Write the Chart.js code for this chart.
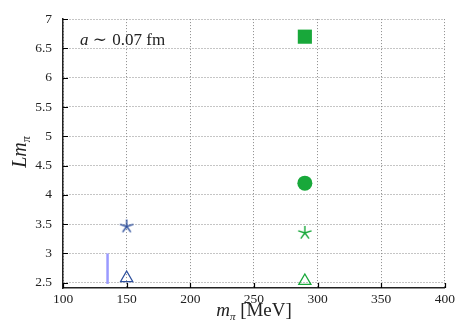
<!DOCTYPE html>
<html>
<head>
<meta charset="utf-8">
<script src="https://cdn.jsdelivr.net/npm/chart.js@4/dist/chart.umd.min.js"></script>
<style>
  html, body { margin: 0; padding: 0; background: #fff; }
  #wrap { width: 458px; height: 322px; position: relative; }
</style>
</head>
<body>
<div id="wrap"><canvas id="c" width="458" height="322"></canvas></div>
<script>
// ---- data ----
const xTicks = [100, 150, 200, 250, 300, 350, 400];
const yTicks = [2.5, 3, 3.5, 4, 4.5, 5, 5.5, 6, 6.5, 7];
const blueMass = [150];
const blueStarL = [3.46];
const blueTriangleL = [2.58];
const bandMass = [135, 135];
const bandL = [2.48, 3.0];
const greenMass = [290];
const greenSquareL = [6.7];
const greenCircleL = [4.2];
const greenStarL = [3.35];
const greenTriangleL = [2.53];
const annotation = ['a', ' \u223C ', '0.07 fm'];

// ---- styles ----
const BLUE = '#2d4f9c';
const GREEN = '#18a83a';
const LIGHTBLUE = '#9a9aff';
const SERIF = '"Liberation Serif", "DejaVu Serif", serif';

function starCanvas(color, len, lw) {
  const c = document.createElement('canvas');
  c.width = 20; c.height = 20;
  const g = c.getContext('2d');
  g.strokeStyle = color; g.lineWidth = lw; g.lineCap = 'butt';
  g.beginPath();
  for (let i = 0; i < 5; i++) {
    const a = -Math.PI / 2 + i * 2 * Math.PI / 5;
    g.moveTo(10, 10);
    g.lineTo(10 + len * Math.cos(a), 10 + len * Math.sin(a));
  }
  g.stroke();
  return c;
}

function pts(xs, ys) { return xs.map((x, i) => ({ x: x, y: ys[i] })); }

function drawRich(ctx, segs, x, y, align) {
  let w = 0;
  segs.forEach(s => { ctx.font = s.font; w += ctx.measureText(s.text).width + (s.gap || 0); });
  let cx = align === 'center' ? x - w / 2 : x;
  ctx.textBaseline = 'alphabetic';
  ctx.textAlign = 'left';
  segs.forEach(s => {
    ctx.font = s.font;
    ctx.fillText(s.text, cx, y + (s.dy || 0));
    cx += ctx.measureText(s.text).width + (s.gap || 0);
  });
}

const extras = {
  id: 'extras',
  afterDraw(chart) {
    const ctx = chart.ctx;
    const xs = chart.scales.x, ys = chart.scales.y;
    const a = chart.chartArea;
    ctx.save();
    ctx.setLineDash([]);
    // inward tick marks
    ctx.strokeStyle = '#000';
    ctx.lineWidth = 1.2;
    ctx.beginPath();
    xTicks.forEach(v => {
      const px = Math.round(xs.getPixelForValue(v)) + 0.5;
      ctx.moveTo(px, a.bottom);
      ctx.lineTo(px, a.bottom - 5);
    });
    yTicks.forEach(v => {
      const py = Math.round(ys.getPixelForValue(v)) + 0.5;
      ctx.moveTo(a.left, py);
      ctx.lineTo(a.left + 5, py);
    });
    ctx.stroke();
    // annotation
    ctx.fillStyle = '#222';
    drawRich(ctx, [
      { text: annotation[0], font: 'italic 17px ' + SERIF },
      { text: annotation[1], font: '17px ' + SERIF, gap: 1 },
      { text: annotation[2], font: '17px ' + SERIF }
    ], 80, 45, 'left');
    // x title
    drawRich(ctx, [
      { text: 'm', font: 'italic 19px ' + SERIF },
      { text: '\u03C0', font: 'italic 11px ' + SERIF, dy: 4 },
      { text: ' [MeV]', font: '19px ' + SERIF }
    ], 254, 316, 'center');
    // y title
    ctx.translate(26, 152);
    ctx.rotate(-Math.PI / 2);
    drawRich(ctx, [
      { text: 'Lm', font: 'italic 20px ' + SERIF },
      { text: '\u03C0', font: 'italic 12px ' + SERIF, dy: 4 }
    ], 0, 0, 'center');
    ctx.restore();
  }
};

new Chart(document.getElementById('c'), {
  type: 'scatter',
  data: {
    datasets: [
      { data: pts(bandMass, bandL), showLine: true, borderColor: LIGHTBLUE, borderWidth: 2.5, pointRadius: 0 },
      { data: pts(blueMass, blueStarL), pointStyle: starCanvas(BLUE, 7, 1.4) },
      { data: pts(blueMass, blueTriangleL), pointStyle: 'triangle', pointRadius: 7, backgroundColor: 'rgba(255,255,255,0)', borderColor: BLUE, borderWidth: 1.3 },
      { data: pts(greenMass, greenSquareL), pointStyle: 'rect', pointRadius: 10, backgroundColor: GREEN, borderColor: GREEN, borderWidth: 0 },
      { data: pts(greenMass, greenCircleL), pointStyle: 'circle', pointRadius: 7.5, backgroundColor: GREEN, borderColor: GREEN, borderWidth: 0 },
      { data: pts(greenMass, greenStarL), pointStyle: starCanvas(GREEN, 7, 1.4) },
      { data: pts(greenMass, greenTriangleL), pointStyle: 'triangle', pointRadius: 7, backgroundColor: 'rgba(255,255,255,0)', borderColor: GREEN, borderWidth: 1.3 }
    ]
  },
  options: {
    responsive: false,
    animation: false,
    layout: { padding: { left: 0, right: 12, top: 14, bottom: 0 } },
    plugins: { legend: { display: false }, tooltip: { enabled: false } },
    elements: { point: { hoverRadius: 0 } },
    scales: {
      x: {
        type: 'linear', min: 100, max: 400,
        afterBuildTicks: s => { s.ticks = xTicks.map(v => ({ value: v })); },
        afterFit: s => { s.height = 34; },
        ticks: { callback: v => String(v), color: '#222', font: { family: SERIF, size: 13.5 }, padding: 3, maxRotation: 0 },
        grid: { color: '#8a8a8a', lineWidth: 1, drawTicks: false },
        border: { color: '#222', width: 1.5, dash: [1, 2] }
      },
      y: {
        type: 'linear', min: 2.41, max: 7,
        afterBuildTicks: s => { s.ticks = yTicks.map(v => ({ value: v })); },
        afterFit: s => { s.width = 63; },
        ticks: { callback: v => String(v), color: '#222', font: { family: SERIF, size: 13.5 }, padding: 11 },
        grid: { color: '#8a8a8a', lineWidth: 1, drawTicks: false },
        border: { color: '#222', width: 1.5, dash: [1, 2] }
      }
    }
  },
  plugins: [extras]
});
</script>
</body>
</html>
